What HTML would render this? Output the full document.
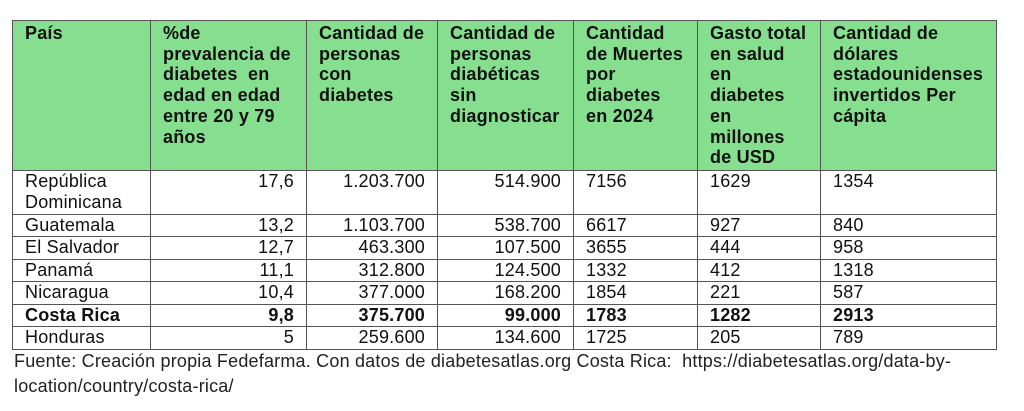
<!DOCTYPE html>
<html><head><meta charset="utf-8"><style>
body{margin:0;width:1024px;height:411px;background:#fff;position:relative;overflow:hidden;font-family:"Liberation Sans",Arial,sans-serif;color:#111}
table{position:absolute;left:12px;top:20px;border-collapse:collapse;table-layout:fixed;width:984px}
td{border:1px solid #555;padding:0 12px;font-size:18px;letter-spacing:0.2px;vertical-align:top;overflow:hidden;white-space:nowrap}
tr.h td{background:#86df8f;font-weight:bold;line-height:20.7px;padding-top:2px;height:147px}
tr.r td{height:21.5px;line-height:21px}
tr.r1 td{height:42.5px}
td.n{text-align:right}
tr.b td{font-weight:bold}
.f{position:absolute;left:14px;top:349px;font-size:18px;letter-spacing:0.2px;line-height:25px;color:#222;white-space:nowrap}
</style></head><body>
<table>
<colgroup><col style="width:138px"><col style="width:156px"><col style="width:131px"><col style="width:136px"><col style="width:124px"><col style="width:123px"><col style="width:176px"></colgroup>
<tr class="h"><td>País</td><td>%de<br>prevalencia de<br>diabetes&nbsp; en<br>edad en edad<br>entre 20 y 79<br>años</td><td>Cantidad de<br>personas<br>con<br>diabetes</td><td>Cantidad de<br>personas<br>diabéticas<br>sin<br>diagnosticar</td><td>Cantidad<br>de Muertes<br>por<br>diabetes<br>en 2024</td><td>Gasto total<br>en salud<br>en<br>diabetes<br>en<br>millones<br>de USD</td><td>Cantidad de<br>dólares<br>estadounidenses<br>invertidos Per<br>cápita</td></tr>
<tr class="r r1"><td>República<br>Dominicana</td><td class="n">17,6</td><td class="n">1.203.700</td><td class="n">514.900</td><td>7156</td><td>1629</td><td>1354</td></tr>
<tr class="r"><td>Guatemala</td><td class="n">13,2</td><td class="n">1.103.700</td><td class="n">538.700</td><td>6617</td><td>927</td><td>840</td></tr>
<tr class="r"><td>El Salvador</td><td class="n">12,7</td><td class="n">463.300</td><td class="n">107.500</td><td>3655</td><td>444</td><td>958</td></tr>
<tr class="r"><td>Panamá</td><td class="n">11,1</td><td class="n">312.800</td><td class="n">124.500</td><td>1332</td><td>412</td><td>1318</td></tr>
<tr class="r"><td>Nicaragua</td><td class="n">10,4</td><td class="n">377.000</td><td class="n">168.200</td><td>1854</td><td>221</td><td>587</td></tr>
<tr class="r b"><td>Costa Rica</td><td class="n">9,8</td><td class="n">375.700</td><td class="n">99.000</td><td>1783</td><td>1282</td><td>2913</td></tr>
<tr class="r"><td>Honduras</td><td class="n">5</td><td class="n">259.600</td><td class="n">134.600</td><td>1725</td><td>205</td><td>789</td></tr>
</table>
<div class="f">Fuente: Creación propia Fedefarma. Con datos de diabetesatlas.org Costa Rica:&nbsp; https://diabetesatlas.org/data-by-<br>location/country/costa-rica/</div>
</body></html>
